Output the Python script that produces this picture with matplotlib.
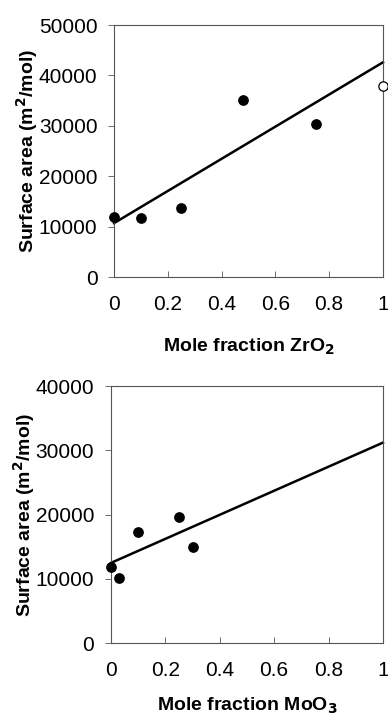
import matplotlib
matplotlib.use("Agg")
import matplotlib.pyplot as plt

plt.rcParams['font.family'] = ['Liberation Sans', 'DejaVu Sans']

# Top panel (ZrO2)
zr_x = [0.0, 0.10, 0.25, 0.48, 0.75]
zr_y = [12000, 11700, 13600, 35200, 30400]
zr_open_x = [1.0]
zr_open_y = [37900]
zr_fit_x = [0.0, 1.0]
zr_fit_y = [10700, 42600]

# Bottom panel (MoO3)
mo_x = [0.0, 0.03, 0.10, 0.25, 0.30]
mo_y = [11900, 10200, 17300, 19700, 14900]
mo_fit_x = [0.0, 1.0]
mo_fit_y = [12500, 31200]

xticks = [0, 0.2, 0.4, 0.6, 0.8, 1]
xticklabels = ['0', '0.2', '0.4', '0.6', '0.8', '1']
zr_yticks = [0, 10000, 20000, 30000, 40000, 50000]
mo_yticks = [0, 10000, 20000, 30000, 40000]

fig = plt.figure(figsize=(3.88, 7.19), dpi=100)
ax1 = fig.add_axes([0.294, 0.6147, 0.693, 0.3505])
ax2 = fig.add_axes([0.286, 0.1053, 0.701, 0.3578])

def style(ax, yticks, xlabel, xlabelpad, ylabelpad):
    ax.set_xlim(0, 1)
    ax.set_ylim(yticks[0], yticks[-1])
    ax.set_xticks(xticks)
    ax.set_xticklabels(xticklabels)
    ax.set_yticks(yticks)
    ax.set_yticklabels([str(v) for v in yticks])
    for s in ax.spines.values():
        s.set_color('#555555')
        s.set_linewidth(0.8)
    ax.tick_params(axis='x', direction='in', length=4, width=0.6, color='#555555',
                   labelsize=15, pad=13)
    ax.tick_params(axis='y', direction='out', length=4, width=0.6, color='#555555',
                   labelsize=15, pad=8)
    ax.set_xlabel(xlabel, fontsize=14, fontweight='bold', labelpad=xlabelpad)
    ax.set_ylabel('Surface area (m$^\\mathbf{2}$/mol)', fontsize=14, fontweight='bold',
                  labelpad=ylabelpad)

ax1.plot(zr_fit_x, zr_fit_y, color='black', lw=1.8, clip_on=False)
ax1.scatter(zr_x, zr_y, s=45, color='black', zorder=3, clip_on=False)
ax1.scatter(zr_open_x, zr_open_y, s=45, facecolor='white', edgecolor='black', lw=0.9,
            zorder=3, clip_on=False)
style(ax1, zr_yticks, 'Mole fraction ZrO$_\\mathbf{2}$', 16, -1)

ax2.plot(mo_fit_x, mo_fit_y, color='black', lw=1.8, clip_on=False)
ax2.scatter(mo_x, mo_y, s=45, color='black', zorder=3, clip_on=False)
style(ax2, mo_yticks, 'Mole fraction MoO$_\\mathbf{3}$', 11, -1)

fig.savefig('out.png', dpi=100)
